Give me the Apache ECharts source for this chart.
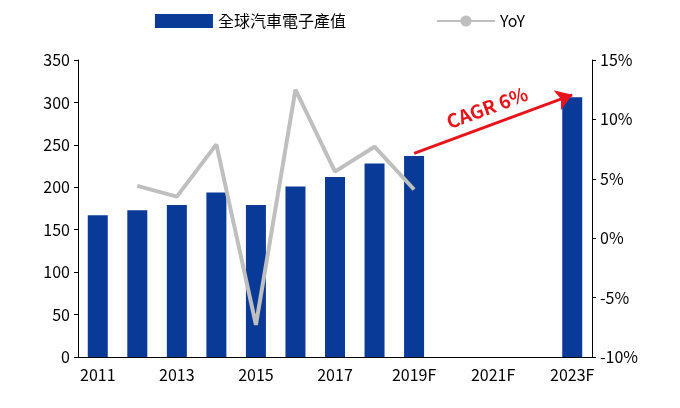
<!DOCTYPE html>
<html><head><meta charset="utf-8">
<script src="https://cdn.jsdelivr.net/npm/echarts@6/dist/echarts.min.js"></script>
<style>html,body{margin:0;padding:0;background:#fff}#c{width:680px;height:408px}</style>
</head><body><div id="c"></div>
<script>
const categories=['2011','2012','2013','2014','2015','2016','2017','2018','2019F','2020F','2021F','2022F','2023F'];
const output=[167,173,179,194,179,201,212,228,237,null,null,null,306];
const yoy=[null,4.4,3.5,7.9,-7.3,12.5,5.6,7.7,4.1,null,null,null,null];
const barName='全球汽車電子產值';
const lineName='YoY';
const cagrLabel='CAGR 6%';
const ff='"Noto Sans CJK TC","Noto Sans",sans-serif';
const chart=echarts.init(document.getElementById('c'));
chart.setOption({
  textStyle:{fontFamily:ff},
  legend:{top:8,left:'center',itemGap:90,itemWidth:58,itemHeight:14,textStyle:{fontSize:16,color:'#000',fontFamily:ff},
    data:[{name:barName,icon:'rect'},{name:lineName}]},
  grid:{left:78,right:88,top:60,bottom:51},
  xAxis:{type:'category',data:categories,axisTick:{show:false},
    axisLine:{lineStyle:{color:'#000'}},
    axisLabel:{interval:1,fontSize:16,color:'#000',margin:10}},
  yAxis:[{type:'value',min:0,max:350,interval:50,splitLine:{show:false},
      axisLine:{show:true,lineStyle:{color:'#000'}},axisTick:{show:true,inside:false,length:4},
      axisLabel:{fontSize:16,color:'#000'}},
    {type:'value',min:-10,max:15,interval:5,splitLine:{show:false},
      axisLine:{show:true,lineStyle:{color:'#000'}},axisTick:{show:true,length:4},
      axisLabel:{fontSize:16,color:'#000',formatter:'{value}%'}}],
  series:[
    {name:barName,type:'bar',data:output,barWidth:20,itemStyle:{color:'#0a3a97'},
      markLine:{symbol:['none','arrow'],symbolSize:16,silent:true,
        lineStyle:{color:'#e8141b',width:3,type:'solid'},
        label:{show:true,position:'middle',formatter:cagrLabel,color:'#e8141b',fontSize:19,fontWeight:'bold',distance:8},
        data:[[{coord:['2019F',240]},{coord:['2023F',309]}]]}},
    {name:lineName,type:'line',yAxisIndex:1,data:yoy,symbol:'none',
      lineStyle:{color:'#bfbfbf',width:4},itemStyle:{color:'#bfbfbf'}}
  ]
});
</script></body></html>
